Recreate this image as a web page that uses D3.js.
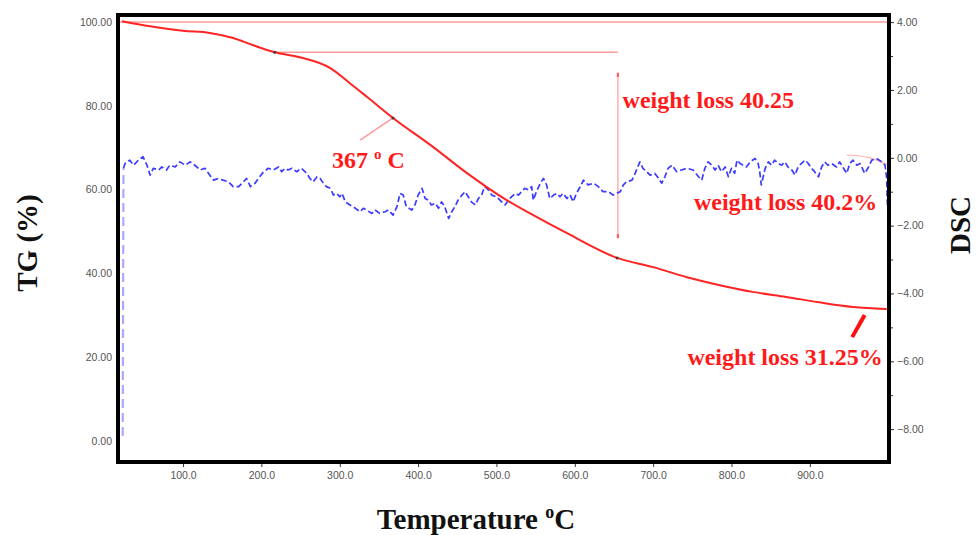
<!DOCTYPE html>
<html>
<head>
<meta charset="utf-8">
<script src="https://cdn.jsdelivr.net/npm/d3@7"></script>
<style>
  body { margin: 0; background: #fff; }
  svg { display: block; }
  .axis text { font-family: "Liberation Sans", Arial, sans-serif; font-size: 10.5px; fill: #555; }
  .axis line { stroke: #333; }
  .title { font-family: "Liberation Serif", "Times New Roman", serif; font-weight: bold; font-size: 29px; fill: #111; }
  .note { font-family: "Liberation Serif", "Times New Roman", serif; font-weight: bold; font-size: 24px; fill: #ff1a1a; }
</style>
</head>
<body>
<svg width="978" height="535"></svg>
<script>
// TG curve (weight %)
var tgTemp  = [22, 58, 100, 134, 164, 189, 217, 249, 288, 313, 335, 368, 419, 462, 513, 547, 590, 654, 700, 743, 785, 827, 870, 912, 955, 998];
var tgValue = [100.2, 99.0, 97.9, 97.4, 96.2, 94.5, 92.8, 91.6, 89.0, 85.4, 82.1, 77.1, 70.2, 64.0, 57.5, 53.9, 49.6, 43.7, 41.5, 39.1, 37.2, 35.6, 34.4, 33.1, 32.0, 31.5];
var tgMarks = [217, 368, 654];

// DSC signal [temperature, value]
var dscPoints = [[23,-8.2],[24,-0.31],[26,-0.17],[32,-0.07],[37,-0.22],[43,-0.07],[49,0.03],[54,-0.22],[58,-0.51],[62,-0.31],
  [69,-0.36],[73,-0.27],[79,-0.36],[83,-0.22],[90,-0.27],[96,-0.12],[103,-0.22],[109,-0.12],[115,-0.22],[122,-0.36],
  [128,-0.31],[134,-0.51],[139,-0.66],[145,-0.61],[151,-0.66],[158,-0.71],[164,-0.85],[171,-0.85],[177,-0.71],[181,-0.61],
  [186,-0.85],[192,-0.75],[196,-0.61],[203,-0.41],[209,-0.31],[215,-0.36],[222,-0.27],[226,-0.41],[230,-0.31],[234,-0.36],
  [239,-0.31],[245,-0.41],[251,-0.31],[258,-0.46],[262,-0.61],[266,-0.71],[271,-0.56],[275,-0.61],[279,-0.75],[283,-0.85],
  [288,-0.90],[292,-1.10],[296,-1.05],[300,-1.15],[303,-1.05],[307,-1.30],[313,-1.39],[320,-1.49],[326,-1.59],[330,-1.49],
  [334,-1.54],[341,-1.64],[345,-1.54],[351,-1.64],[358,-1.59],[362,-1.54],[368,-1.69],[373,-1.44],[377,-1.05],[381,-1.10],
  [385,-1.44],[392,-1.54],[396,-1.39],[400,-1.10],[405,-0.90],[409,-1.20],[413,-1.25],[417,-1.39],[422,-1.34],[426,-1.49],
  [430,-1.30],[434,-1.44],[439,-1.79],[443,-1.59],[447,-1.44],[451,-1.25],[456,-1.10],[460,-1.00],[464,-1.15],[468,-1.30],
  [473,-1.39],[477,-1.20],[481,-1.10],[485,-0.85],[490,-0.95],[494,-1.10],[500,-1.15],[511,-1.39],[517,-1.20],[524,-1.05],
  [528,-1.10],[532,-1.00],[536,-0.90],[541,-0.95],[545,-0.85],[547,-1.25],[551,-1.00],[556,-0.75],[560,-0.61],[564,-0.80],
  [568,-1.20],[573,-1.10],[577,-1.05],[581,-1.15],[585,-1.05],[590,-1.20],[594,-1.10],[598,-1.30],[602,-1.05],[607,-0.85],
  [611,-0.66],[617,-0.80],[624,-0.75],[630,-0.85],[636,-1.00],[643,-1.00],[649,-1.10],[653,-1.05],[658,-1.00],[662,-0.80],
  [666,-0.71],[673,-0.66],[677,-0.46],[683,-0.12],[687,-0.31],[692,-0.41],[696,-0.51],[702,-0.46],[707,-0.61],[711,-0.75],
  [715,-0.56],[719,-0.31],[724,-0.22],[730,-0.41],[736,-0.36],[743,-0.31],[751,-0.36],[758,-0.56],[762,-0.66],[766,-0.31],
  [770,-0.12],[775,-0.22],[779,-0.36],[783,-0.22],[787,-0.41],[792,-0.27],[796,-0.56],[800,-0.31],[804,-0.46],[807,-0.07],
  [811,-0.17],[815,-0.22],[819,-0.27],[824,-0.12],[830,-0.02],[834,-0.17],[836,-0.41],[838,-0.80],[843,-0.31],[847,-0.12],
  [851,-0.22],[855,-0.07],[860,-0.17],[864,-0.22],[868,-0.12],[872,-0.27],[877,-0.36],[881,-0.51],[885,-0.27],[889,-0.17],
  [894,-0.07],[898,-0.17],[902,-0.31],[906,-0.41],[911,-0.56],[915,-0.27],[919,-0.12],[923,-0.22],[928,-0.17],[934,-0.27],
  [938,-0.12],[943,-0.31],[947,-0.46],[951,-0.17],[955,-0.07],[960,-0.22],[964,-0.17],[970,-0.46],[974,-0.31],[979,-0.07],
  [985,-0.02],[992,-0.12],[996,-0.22],[998,-0.60],[999,-1.40]];

// tick values
var xTicks = [100, 200, 300, 400, 500, 600, 700, 800, 900];
var tgTicks = [0, 20, 40, 60, 80, 100];
var dscTicks = [-8, -6, -4, -2, 0, 2, 4];
var dscMinor = [-7, -5, -3, -1, 1, 3];

let svg = d3.select("svg");
var plot = {left: 118, right: 889, top: 15, bottom: 462};

var x = d3.scaleLinear().domain([17, 1001]).range([plot.left, plot.right]);
var yTG = d3.scaleLinear().domain([-5, 101.67]).range([plot.bottom, plot.top]);
var yDSC = d3.scaleLinear().domain([-8.97, 4.21]).range([plot.bottom, plot.top]);

var tgData = tgTemp.map((t, i) => [t, tgValue[i]]);

// axes
function clean(g) {
  g.select(".domain").remove();
}
svg.append("g").attr("class", "axis")
    .attr("transform", "translate(0," + plot.bottom + ")")
    .call(d3.axisBottom(x).tickValues(xTicks).tickFormat(d3.format(".1f")).tickSize(5).tickPadding(5))
    .call(clean);
svg.append("g").attr("class", "axis")
    .attr("transform", "translate(" + plot.left + ",0)")
    .call(d3.axisLeft(yTG).tickValues(tgTicks).tickFormat(d3.format(".2f")).tickSize(0).tickPadding(6))
    .call(clean);
svg.append("g").attr("class", "axis")
    .attr("transform", "translate(" + plot.right + ",0)")
    .call(d3.axisRight(yDSC).tickValues(dscTicks).tickFormat(d3.format(".2f")).tickSize(5).tickPadding(3))
    .call(clean);
svg.append("g").attr("class", "axis")
    .attr("transform", "translate(" + plot.right + ",0)")
    .call(d3.axisRight(yDSC).tickValues(dscMinor).tickFormat("").tickSize(4))
    .call(clean);

// annotation guide lines (light red)
var guide = "#ff9a9a";
var tgLine = d3.line().x(d => x(d[0])).y(d => yTG(d[1]));
svg.append("path").attr("d", tgLine([[17, 100], [1001, 100]]))
    .attr("fill", "none").attr("stroke", guide).attr("stroke-width", 1.5);
svg.append("path").attr("d", tgLine([[217, 92.8], [655, 92.8]]))
    .attr("fill", "none").attr("stroke", guide).attr("stroke-width", 1.5);
svg.append("path").attr("d", tgLine([[655, 87.4], [655, 48.9]]))
    .attr("fill", "none").attr("stroke", guide).attr("stroke-width", 1.2);
svg.selectAll(".cap").data([87.4, 48.9]).enter().append("path")
    .attr("d", d => tgLine([[655, d + 0.5], [655, d - 0.5]]))
    .attr("stroke", "#ff6060").attr("stroke-width", 2.2);
svg.append("path").attr("d", tgLine([[368, 77.1], [326, 71.8]]))
    .attr("fill", "none").attr("stroke", guide).attr("stroke-width", 1.5);

// faint marks near the right end
var dscLine = d3.line().x(d => x(d[0])).y(d => yDSC(d[1]));
svg.append("path").attr("d", dscLine.curve(d3.curveBasis)([[947, 0.08], [975, 0.05], [998, -0.2]]))
    .attr("fill", "none").attr("stroke", "#ffb0b0").attr("stroke-width", 1.2);
dscLine.curve(d3.curveLinear);
svg.append("path").attr("d", tgLine([[940, 32.2], [975, 31.7], [1000, 31.3]]))
    .attr("fill", "none").attr("stroke", "#ffb8b8").attr("stroke-width", 1);

// DSC curve (dashed blue)
svg.append("path")
    .attr("d", dscLine(dscPoints.slice(0, 2)))
    .attr("fill", "none").attr("stroke", "#a9a9ff").attr("stroke-width", 2.2)
    .attr("stroke-dasharray", "9,5");
svg.append("path")
    .attr("d", dscLine(dscPoints.slice(1)))
    .attr("fill", "none").attr("stroke", "#3c3cff").attr("stroke-width", 1.7)
    .attr("stroke-dasharray", "6,3").attr("stroke-linejoin", "round");

// TG curve (red)
svg.append("path")
    .attr("d", tgLine.curve(d3.curveMonotoneX)(tgData))
    .attr("fill", "none").attr("stroke", "#ff2424").attr("stroke-width", 2);
var tgAt = d3.scaleLinear().domain(tgTemp).range(tgValue);
svg.selectAll(".mark").data(tgMarks).enter().append("circle")
    .attr("cx", d => x(d)).attr("cy", d => yTG(tgAt(d)))
    .attr("r", 1.5).attr("fill", "#553333");

// thick red pointer
svg.append("path").attr("d", d3.line().x(d => x(d[0])).y(d => yTG(d[1]))([[954, 24.8], [970, 30.1]]))
    .attr("stroke", "#ff1010").attr("stroke-width", 4);

// frame
svg.append("rect")
    .attr("x", plot.left).attr("y", plot.top)
    .attr("width", plot.right - plot.left).attr("height", plot.bottom - plot.top)
    .attr("fill", "none").attr("stroke", "#000").attr("stroke-width", 4);

// red notes
var t367 = svg.append("text").attr("class", "note").attr("x", x(290)).attr("y", yTG(65.2));
t367.append("tspan").text("367 ");
t367.append("tspan").attr("font-size", "15px").attr("dy", "-9").text("o");
t367.append("tspan").attr("dy", "9").text(" C");
svg.append("text").attr("class", "note").attr("x", x(661)).attr("y", yTG(79.5)).text("weight loss 40.25");
svg.append("text").attr("class", "note").attr("x", x(986)).attr("y", yTG(55.1))
    .attr("text-anchor", "end").text("weight loss 40.2%");
svg.append("text").attr("class", "note").attr("x", x(993)).attr("y", yTG(18.1))
    .attr("text-anchor", "end").text("weight loss 31.25%");

// axis titles
svg.append("text").attr("class", "title")
    .attr("transform", "translate(37,243) rotate(-90)")
    .attr("text-anchor", "middle").text("TG (%)");
svg.append("text").attr("class", "title")
    .attr("transform", "translate(970,225) rotate(-90)")
    .attr("text-anchor", "middle").text("DSC");
var tx = svg.append("text").attr("class", "title")
    .attr("x", 476).attr("y", 529).attr("text-anchor", "middle");
tx.append("tspan").text("Temperature ");
tx.append("tspan").attr("font-size", "18px").attr("dy", "-11").text("o");
tx.append("tspan").attr("dy", "11").text("C");
</script>
</body>
</html>
